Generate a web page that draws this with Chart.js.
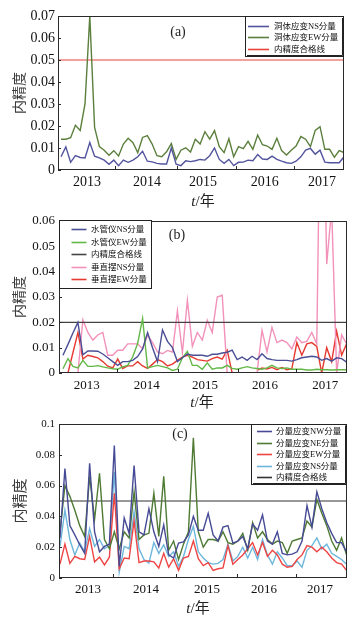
<!DOCTYPE html>
<html>
<head>
<meta charset="utf-8">
<script src="https://cdn.jsdelivr.net/npm/chart.js@4.4.0/dist/chart.umd.min.js"></script>
<style>
html,body{margin:0;padding:0;background:#fff;width:359px;height:620px;overflow:hidden;position:relative;}
.panel{position:absolute;left:0;width:359px;}
canvas{display:block;}
.txt{position:absolute;font-family:'Liberation Serif','Noto Sans CJK SC',serif;color:#222;transform:translate(-50%,-50%);white-space:nowrap;line-height:1;}
.xt{font-size:15px;}
.tag{font-size:14px;}
</style>
</head>
<body>
<div class="panel" style="top:0;height:205px"><canvas id="ca" width="359" height="205"></canvas></div>
<div class="panel" style="top:205px;height:205px"><canvas id="cb" width="359" height="205"></canvas></div>
<div class="panel" style="top:410px;height:210px"><canvas id="cc" width="359" height="210"></canvas></div>
<div class="txt tag" style="left:178px;top:32px">(a)</div>
<div class="txt tag" style="left:177px;top:235px">(b)</div>
<div class="txt tag" style="left:180px;top:434px">(c)</div>
<div class="txt xt" style="left:203px;top:201px"><i>t</i>/年</div>
<div class="txt xt" style="left:202px;top:402px"><i>t</i>/年</div>
<div class="txt xt" style="left:198px;top:608px"><i>t</i>/年</div>
<script>
// ---------- data ----------
const yearLabels = ['2013','2014','2015','2016','2017'];

// panel (a): 洞体应变
const caveNS_A = [0.006,0.0105,0.0035,0.0065,0.0057,0.0055,0.0125,0.0063,0.0055,0.0045,
  0.0026,0.0045,0.002,0.0045,0.0035,0.0045,0.006,0.0085,0.004,0.0037,
  0.003,0.0027,0.0027,0.01,0.0026,0.002,0.0042,0.0038,0.0042,0.0048,
  0.0045,0.0065,0.01,0.0048,0.003,0.0048,0.002,0.0035,0.0036,0.0045,
  0.0042,0.007,0.005,0.0048,0.0063,0.0048,0.004,0.0033,0.003,0.004,
  0.006,0.009,0.0098,0.0072,0.009,0.0036,0.0033,0.0033,0.0033,0.006];
const caveEW_A = [0.014,0.014,0.0147,0.0203,0.018,0.030,0.070,0.0194,0.0106,0.009,
  0.0067,0.0088,0.0064,0.0118,0.0144,0.0124,0.0079,0.0148,0.0156,0.0118,
  0.0065,0.006,0.0083,0.012,0.0048,0.009,0.0101,0.0082,0.014,0.0118,
  0.0174,0.014,0.0179,0.0106,0.0079,0.0142,0.006,0.0106,0.0097,0.013,
  0.0094,0.0159,0.0115,0.0109,0.0094,0.0144,0.0088,0.0068,0.009,0.0109,
  0.0152,0.014,0.0106,0.018,0.0197,0.0094,0.0094,0.0058,0.0088,0.0079];
const passLimitA = 0.05;

// panel (b): 水管仪 / 垂直摆
const tubeNS_B = [0.007,0.0113,0.0158,0.020,0.0072,0.0087,0.0087,0.0086,0.0075,0.006,
  0.0045,0.003,0.0045,0.0045,0.005,0.0065,0.0095,0.016,0.010,0.0045,
  0.017,0.0125,0.010,0.0045,0.006,0.0075,0.007,0.007,0.007,0.0066,
  0.0074,0.0074,0.0079,0.0082,0.009,0.0053,0.0063,0.005,0.0066,0.0053,
  0.0076,0.0057,0.0053,0.005,0.005,0.005,0.0047,0.0053,0.006,0.0063,
  0.0066,0.0063,0.005,0.0057,0.0047,0.006,0.0057,0.0043];
const tubeEW_B = [0.0017,0.0057,0.0026,0.002,0.005,0.0026,0.0026,0.0029,0.0024,0.002,
  0.0017,0.0015,0.0024,0.003,0.0063,0.0116,0.0215,0.002,0.0025,0.003,
  0.0025,0.002,0.001,0.0015,0.006,0.0085,0.003,0.003,0.0015,0.004,
  0.0015,0.002,0.002,0.003,0.0018,0.0015,0.002,0.0025,0.002,0.0018,
  0.0015,0.002,0.003,0.002,0.0018,0.002,0.0015,0.0015,0.0015,0.0012,
  0.0012,0.0015,0.0013,0.0013,0.0012,0.0013,0.0013,0.0013];
const pendNS_B = [null,null,null,0,0.021,0.016,0.013,0.015,0.016,0.007,
  0.007,0.009,0.009,0.0115,0.0115,0.0115,0.0096,0.0149,0.012,0.0083,
  0.0076,0.0089,0.0083,0.0245,0.008,0.0287,0.0105,0.016,0.013,0.0208,
  0.016,0.030,0.0307,0,null,null,null,null,null,0,
  0.0168,0.0083,0.018,0.012,0.013,0.012,0.0095,0.0142,0.012,0.0125,
  0.016,0.0115,0.15,0.043,0.065,0,0.015,0.0115];
const pendEW_B = [null,0,0.008,0.016,0.0055,0.007,0.0065,0.006,0.0045,0.0027,
  0.002,0.0055,0.0018,0.0028,0.0028,0.0045,0.0028,0.0018,0.0035,0.0053,
  0.0045,0.0028,0.0035,0.005,0.0063,0.007,0.0063,0.0053,0.005,0.0047,
  0.0057,0.0063,0.0055,0.009,0,null,null,null,null,0.001,
  0.002,0.0016,0.0022,0.0013,0.0022,0.0013,0.0017,0.012,0.007,0.0115,
  0.012,0.0105,0,0.01,0.0045,0.0165,0.007,0.0115];
const passLimitB = 0.02;

// panel (c): 分量应变
const compNW_C = [0.026,0.071,0.034,0.028,0.0216,0.016,0.0745,0.030,0.017,0.0205,
  0.022,0.086,0.0076,0.039,0.029,0.073,0.030,0.028,0.045,0.030,
  0.0205,0.0345,0.015,0.013,0.0227,0.0235,0.028,0.040,0.031,0.031,
  0.042,0.028,0.024,0.033,0.034,0.0227,0.024,0.027,0.019,0.035,
  0.031,0.041,0.024,0.022,0.030,0.016,0.015,0.0155,0.017,0.024,
  0.047,0.033,0.056,0.045,0.036,0.029,0.023,0.023,0.017];
const compNE_C = [0.030,0.060,0.053,0.044,0.034,0.027,0.066,0.038,0.068,0.025,
  0.019,0.030,0.019,0.030,0.026,0.056,0.025,0.028,0.029,0.055,
  0.027,0.066,0.018,0.024,0.012,0.022,0.030,0.091,0.030,0.020,
  0.025,0.025,0.024,0.030,0.023,0.022,0.024,0.029,0.018,0.036,
  0.026,0.030,0.025,0.022,0.024,0.023,0.016,0.024,0.025,0.026,
  0.037,0.033,0.051,0.042,0.034,0.024,0.018,0.026,0.015];
const compEW_C = [0.009,0.022,0.0095,0.014,0.0125,0.012,0.027,0.0105,0.0135,0.0085,
  0.0135,0.055,0.006,0.013,0.0125,0.037,0.010,0.011,0.011,0.0105,
  0.0065,0.016,0.007,0.0125,0.005,0.013,0.014,0.024,0.0125,0.008,
  0.010,0.005,0.006,0.0065,0.021,0.009,0.012,0.015,0.019,0.023,
  0.015,0.023,0.014,0.018,0.015,0.009,0.007,0.0075,0.012,0.015,
  0.021,0.020,0.017,0.020,0.017,0.013,0.010,0.009,0.005];
const compNS_C = [0.0205,0.044,0.025,0.015,0.0227,0.017,0.032,0.0205,0.025,0.019,
  0.021,0.069,0.004,0.0205,0.019,0.043,0.019,0.012,0.0097,0.023,
  0.016,0.0216,0.014,0.017,0.0076,0.014,0.025,0.0335,0.017,0.013,
  0.010,0.009,0.0095,0.012,0.022,0.011,0.014,0.020,0.013,0.020,
  0.012,0.025,0.015,0.009,0.017,0.013,0.008,0.008,0.011,0.007,
  0.018,0.021,0.026,0.019,0.022,0.016,0.014,0.012,0.009];
const passLimitC = 0.05;

// ---------- helpers ----------
const SERIF = "'Liberation Serif', 'Noto Sans CJK SC', serif";
const CJK = "'Noto Sans CJK SC', sans-serif";
function pts(arr){ return arr.map((v,i)=>({x:i, y:v})); }
function flat(v, x0, x1){ return [{x:x0, y:v}, {x:x1, y:v}]; }
function fmt(v){ const r = Math.round(v*1000)/1000; return r === 0 ? '0' : String(r); }

const frameTicks = {
  id: 'frameTicks',
  afterDatasetsDraw(chart, args, o){
    const ctx = chart.ctx, a = chart.chartArea, xs = chart.scales.x, ys = chart.scales.y;
    ctx.save();
    ctx.strokeStyle = '#2a2a2a'; ctx.lineWidth = 1;
    ctx.strokeRect(Math.round(a.left)+0.5, Math.round(a.top)+0.5, Math.round(a.width)-1, Math.round(a.height)-1);
    ctx.beginPath();
    (o.boundaries || []).forEach(v => {
      const px = Math.round(xs.getPixelForValue(v)) + 0.5;
      ctx.moveTo(px, a.bottom); ctx.lineTo(px, a.bottom - 4);
    });
    ys.ticks.forEach(t => {
      const py = Math.round(ys.getPixelForValue(t.value)) + 0.5;
      ctx.moveTo(a.left, py); ctx.lineTo(a.left + 3, py);
    });
    ctx.stroke();
    ctx.restore();
  }
};

const boxLegend = {
  id: 'boxLegend',
  afterDraw(chart, args, o){
    if (!o || !o.width) return;
    const ctx = chart.ctx, a = chart.chartArea;
    const left = o.side === 'left' ? a.left : a.right - o.width;
    const top = a.top + (o.dy || 0);
    ctx.save();
    ctx.fillStyle = '#fff';
    ctx.fillRect(left, top, o.width, o.height);
    ctx.strokeStyle = '#222'; ctx.lineWidth = 1;
    ctx.strokeRect(Math.round(left)+0.5, Math.round(top)+0.5, Math.round(o.width)-1, Math.round(o.height)-1);
    if (o.shadow) {
      ctx.beginPath();
      ctx.moveTo(Math.round(left + o.width) - 1.5, top + 2);
      ctx.lineTo(Math.round(left + o.width) - 1.5, Math.round(top + o.height) - 1.5);
      ctx.lineTo(left + 2, Math.round(top + o.height) - 1.5);
      ctx.stroke();
    }
    ctx.font = o.fontSize + 'px ' + SERIF;
    ctx.textBaseline = 'middle'; ctx.textAlign = 'left';
    chart.data.datasets.forEach((d, i) => {
      const y = Math.round(top + o.first + i * o.row) + 0.5;
      ctx.strokeStyle = d.borderColor; ctx.lineWidth = 1.6;
      ctx.beginPath(); ctx.moveTo(left + o.lineStart, y); ctx.lineTo(left + o.lineEnd, y); ctx.stroke();
      ctx.fillStyle = '#111';
      ctx.fillText(d.label, left + o.textStart, y + 0.5);
    });
    ctx.restore();
  }
};

function makePanel(id, p){
  const canvas = document.getElementById(id);
  const H = canvas.height;
  return new Chart(canvas, {
    type: 'line',
    data: { datasets: p.datasets },
    options: {
      responsive: false, animation: false, devicePixelRatio: 1,
      layout: { padding: { top: p.area.top, right: 359 - p.area.right, left: 0, bottom: 0 } },
      elements: { point: { radius: 0 }, line: { borderWidth: 1.4, tension: 0 } },
      plugins: {
        legend: { display: false }, tooltip: { enabled: false },
        frameTicks: { boundaries: p.boundaries },
        boxLegend: p.legend
      },
      scales: {
        x: {
          type: 'linear', min: p.xMin, max: p.xMax,
          afterBuildTicks: s => { s.ticks = p.labelPos.map(v => ({ value: v })); },
          afterFit: s => { s.height = H - p.area.bottom; },
          ticks: { autoSkip: false, maxRotation: 0, minRotation: 0, padding: p.xPad, color: '#111',
                   font: { family: SERIF, size: p.xFont }, callback: (v, i) => yearLabels[i] },
          grid: { display: false, drawTicks: false }, border: { display: false }
        },
        y: {
          min: 0, max: p.yMax,
          afterFit: s => { s.width = p.area.left; },
          ticks: { stepSize: p.yStep, padding: p.yPad, color: '#111',
                   font: { family: SERIF, size: p.yFont }, callback: v => fmt(v) },
          grid: { display: false, drawTicks: false }, border: { display: false },
          title: { display: true, text: '内精度', color: '#3a3a3a',
                   font: { family: CJK, size: p.titleFont }, padding: { top: 10, bottom: 0 } }
        }
      }
    },
    plugins: [frameTicks, boxLegend]
  });
}

// panel (a)
const xa = { min: -0.63, max: 59.0 };
makePanel('ca', {
  area: { left: 58, right: 344, top: 16, bottom: 170 },
  xMin: xa.min, xMax: xa.max,
  boundaries: [11.26, 24.12, 36.42, 48.57],
  labelPos: [5.42, 17.93, 29.6, 42.5, 54.4],
  yMax: 0.07, yStep: 0.01, xFont: 14, yFont: 14, titleFont: 14, xPad: 4, yPad: 3,
  legend: { side: 'right', width: 99, height: 41, dy: 0, first: 9.5, row: 11.7,
            lineStart: 3, lineEnd: 24, textStart: 29, fontSize: 8.5, shadow: true },
  datasets: [
    { label: '洞体应变NS分量', data: pts(caveNS_A), borderColor: '#52549e', borderWidth: 1.4 },
    { label: '洞体应变EW分量', data: pts(caveEW_A), borderColor: '#5b7f3c', borderWidth: 1.4 },
    { label: '内精度合格线', data: flat(passLimitA, xa.min, xa.max), borderColor: '#e8453a', borderWidth: 1.2 }
  ]
});

// panel (b)
const xb = { min: -0.8, max: 57.08 };
makePanel('cb', {
  area: { left: 59, right: 347, top: 16, bottom: 168 },
  xMin: xb.min, xMax: xb.max,
  boundaries: [10.76, 23.16, 35.25, 46.87],
  labelPos: [4.77, 16.86, 28.54, 40.6, 52.7],
  yMax: 0.06, yStep: 0.01, xFont: 13, yFont: 13, titleFont: 14, xPad: 5, yPad: 4,
  legend: { side: 'left', width: 93, height: 69, dy: -1.5, first: 9.5, row: 12.6,
            lineStart: 12.5, lineEnd: 27.5, textStart: 32, fontSize: 8.5, shadow: false },
  datasets: [
    { label: '水管仪NS分量', data: pts(tubeNS_B), borderColor: '#4b4f95', borderWidth: 1.4 },
    { label: '水管仪EW分量', data: pts(tubeEW_B), borderColor: '#62b846', borderWidth: 1.4 },
    { label: '内精度合格线', data: flat(passLimitB, xb.min, xb.max), borderColor: '#444444', borderWidth: 1.2 },
    { label: '垂直摆NS分量', data: pts(pendNS_B), borderColor: '#f291b9', borderWidth: 1.4 },
    { label: '垂直摆EW分量', data: pts(pendEW_B), borderColor: '#e63a30', borderWidth: 1.4 }
  ]
});

// panel (c)
const xc = { min: -0.2, max: 58.1 };
makePanel('cc', {
  area: { left: 59, right: 347, top: 14, bottom: 168 },
  xMin: xc.min, xMax: xc.max,
  boundaries: [10.79, 23.42, 35.89, 47.71],
  labelPos: [5.67, 17.41, 29.76, 41.3, 52.63],
  yMax: 0.1, yStep: 0.02, xFont: 13, yFont: 11, titleFont: 15, xPad: 4, yPad: 4,
  legend: { side: 'right', width: 96, height: 61, dy: -0.5, first: 7.5, row: 11.5,
            lineStart: 6, lineEnd: 21, textStart: 25, fontSize: 8.5, shadow: true },
  datasets: [
    { label: '分量应变NW分量', data: pts(compNW_C), borderColor: '#474a94', borderWidth: 1.4 },
    { label: '分量应变NE分量', data: pts(compNE_C), borderColor: '#4e7a33', borderWidth: 1.4 },
    { label: '分量应变EW分量', data: pts(compEW_C), borderColor: '#ef4444', borderWidth: 1.4 },
    { label: '分量应变NS分量', data: pts(compNS_C), borderColor: '#6cb6dc', borderWidth: 1.4 },
    { label: '内精度合格线', data: flat(passLimitC, xc.min, xc.max), borderColor: '#333333', borderWidth: 1.2 }
  ]
});
</script>
</body>
</html>
